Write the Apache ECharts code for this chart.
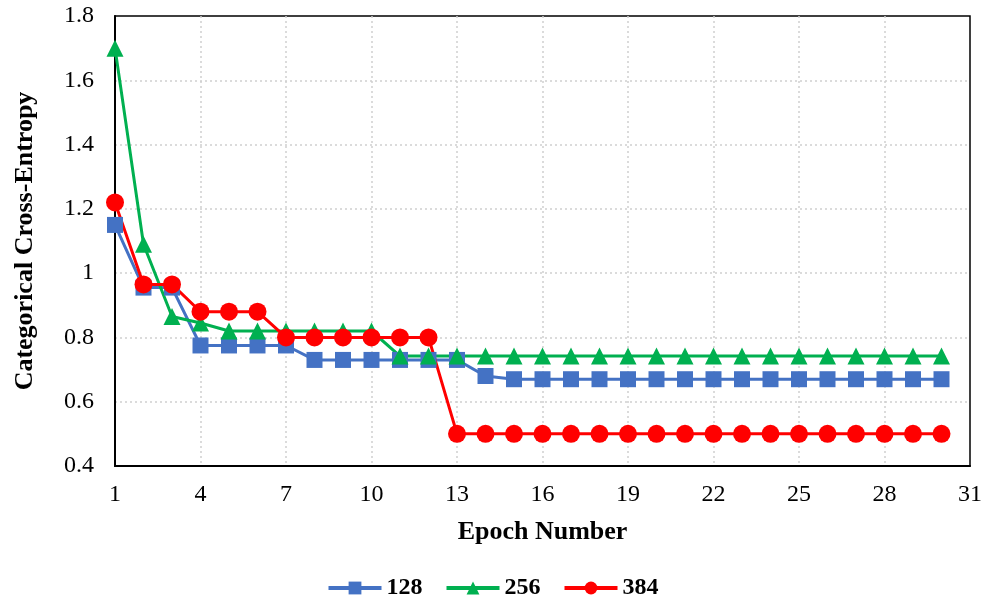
<!DOCTYPE html>
<html>
<head>
<meta charset="utf-8">
<script src="https://cdn.jsdelivr.net/npm/echarts@6/dist/echarts.min.js"></script>
<style>
  html, body { margin: 0; padding: 0; background: #fff; }
  #chart { width: 985px; height: 600px; }
</style>
</head>
<body>
<div id="chart"></div>
<script>
// Epoch axis categories (1..31; data covers epochs 1..30)
const epochs = ['1','2','3','4','5','6','7','8','9','10','11','12','13','14','15','16',
  '17','18','19','20','21','22','23','24','25','26','27','28','29','30','31'];

// Categorical cross-entropy per epoch for each batch size
const loss128 = [1.15, 0.955, 0.955, 0.775, 0.775, 0.775, 0.775, 0.73, 0.73, 0.73,
  0.73, 0.73, 0.73, 0.68, 0.67, 0.67, 0.67, 0.67, 0.67, 0.67,
  0.67, 0.67, 0.67, 0.67, 0.67, 0.67, 0.67, 0.67, 0.67, 0.67];
const loss256 = [1.70, 1.09, 0.865, 0.845, 0.82, 0.82, 0.82, 0.82, 0.82, 0.82,
  0.742, 0.742, 0.742, 0.742, 0.742, 0.742, 0.742, 0.742, 0.742, 0.742,
  0.742, 0.742, 0.742, 0.742, 0.742, 0.742, 0.742, 0.742, 0.742, 0.742];
const loss384 = [1.22, 0.965, 0.965, 0.88, 0.88, 0.88, 0.80, 0.80, 0.80, 0.80,
  0.80, 0.80, 0.50, 0.50, 0.50, 0.50, 0.50, 0.50, 0.50, 0.50,
  0.50, 0.50, 0.50, 0.50, 0.50, 0.50, 0.50, 0.50, 0.50, 0.50];

const seriesNames = ['128', '256', '384'];
const yTicks = { min: 0.4, max: 1.8, step: 0.2 };

const FONT = '"Liberation Serif", "Times New Roman", serif';
const gridLine = {
  show: true, showMinLine: false, showMaxLine: false,
  lineStyle: { color: '#d0d0d0', type: [2, 3], width: 1.5 }
};

function lineSeries(name, data, color, symbol, size) {
  return {
    name: name,
    type: 'line',
    data: data,
    symbol: symbol,
    symbolSize: size,
    showSymbol: true,
    lineStyle: { color: color, width: 3 },
    itemStyle: { color: color },
    emphasis: { disabled: true },
    animation: false
  };
}

const chart = echarts.init(document.getElementById('chart'), null, { renderer: 'canvas' });
chart.setOption({
  backgroundColor: '#fff',
  animation: false,
  textStyle: { fontFamily: FONT },
  grid: {
    left: 115, right: 12, top: 16, bottom: 134,
    show: true, borderColor: '#000', borderWidth: 1.5, containLabel: false
  },
  legend: {
    bottom: 0,
    left: 'center',
    padding: 0,
    itemWidth: 53,
    itemHeight: 16,
    itemGap: 22,
    data: seriesNames,
    lineStyle: { width: 4 },
    textStyle: { fontFamily: FONT, fontSize: 24, fontWeight: 'bold', color: '#000' }
  },
  xAxis: {
    type: 'category',
    data: epochs,
    boundaryGap: false,
    name: 'Epoch Number',
    nameLocation: 'middle',
    nameGap: 53,
    nameTextStyle: { fontFamily: FONT, fontSize: 26, fontWeight: 'bold', color: '#000' },
    axisLine: { lineStyle: { color: '#000', width: 2 } },
    axisTick: { show: false },
    axisLabel: { interval: 2, margin: 17, fontFamily: FONT, fontSize: 24, color: '#000' },
    splitLine: Object.assign({ interval: 2 }, gridLine)
  },
  yAxis: {
    type: 'value',
    min: yTicks.min,
    max: yTicks.max,
    interval: yTicks.step,
    name: 'Categorical Cross-Entropy',
    nameLocation: 'middle',
    nameGap: 77,
    nameTextStyle: { fontFamily: FONT, fontSize: 26, fontWeight: 'bold', color: '#000' },
    axisLine: { show: true, lineStyle: { color: '#000', width: 2 } },
    axisTick: { show: false },
    axisLabel: { margin: 21, fontFamily: FONT, fontSize: 24, color: '#000' },
    splitLine: gridLine
  },
  series: [
    lineSeries(seriesNames[0], loss128, '#4472C4', 'rect', 16),
    lineSeries(seriesNames[1], loss256, '#00B050', 'triangle', 17),
    lineSeries(seriesNames[2], loss384, '#FF0000', 'circle', 18)
  ]
});
</script>
</body>
</html>
